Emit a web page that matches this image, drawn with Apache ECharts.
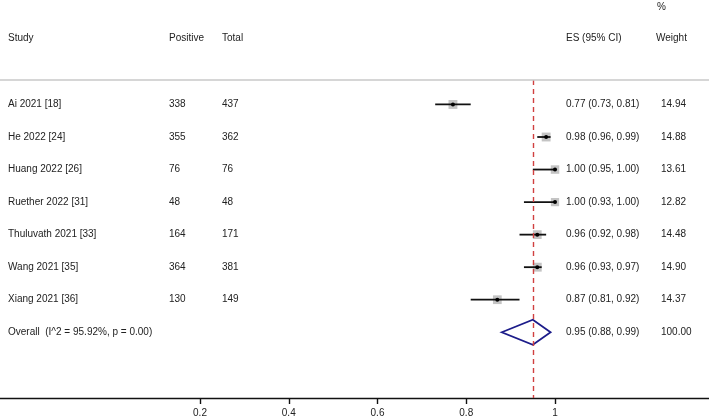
<!DOCTYPE html>
<html>
<head>
<meta charset="utf-8">
<script src="https://cdn.jsdelivr.net/npm/echarts@6/dist/echarts.min.js"></script>
<style>
  html, body { margin: 0; padding: 0; background: #fff; }
  #chart { width: 709px; height: 420px; }
</style>
</head>
<body>
<div id="chart"></div>
<script>
// study data
const studies = ['Ai 2021 [18]', 'He 2022 [24]', 'Huang 2022 [26]', 'Ruether 2022 [31]',
  'Thuluvath 2021 [33]', 'Wang 2021 [35]', 'Xiang 2021 [36]'];
const positive = [338, 355, 76, 48, 164, 364, 130];
const total = [437, 362, 76, 48, 171, 381, 149];
const es = [0.77, 0.98, 1.00, 1.00, 0.96, 0.96, 0.87];
const lower = [0.73, 0.96, 0.95, 0.93, 0.92, 0.93, 0.81];
const upper = [0.81, 0.99, 1.00, 1.00, 0.98, 0.97, 0.92];
const weight = [14.94, 14.88, 13.61, 12.82, 14.48, 14.90, 14.37];

// pooled estimate
const overallLabel = 'Overall  (I^2 = 95.92%, p = 0.00)';
const overallEs = 0.95;
const overallLower = 0.88;
const overallUpper = 0.99;
const overallWeight = 100.00;

const tickValues = [0.2, 0.4, 0.6, 0.8, 1];

const FONT = '"Liberation Sans", Arial, Helvetica, sans-serif';
const TXT = '#222';

const chart = echarts.init(document.getElementById('chart'), null, { renderer: 'canvas' });

// rows: 0..6 studies, 7 overall
const ciData = studies.map((s, i) => [i, lower[i], es[i], upper[i], weight[i]]);
const tableRows = studies.map((s, i) => ({
  value: [0, i],
  cols: [s, String(positive[i]), String(total[i]),
    es[i].toFixed(2) + ' (' + lower[i].toFixed(2) + ', ' + upper[i].toFixed(2) + ')',
    weight[i].toFixed(2)]
}));
tableRows.push({
  value: [0, studies.length],
  cols: [overallLabel, '', '',
    overallEs.toFixed(2) + ' (' + overallLower.toFixed(2) + ', ' + overallUpper.toFixed(2) + ')',
    overallWeight.toFixed(2)]
});

// x pixel of each text column
const colX = [8, 169, 222, 566, 661];

function txt (text, x, y, align) {
  return {
    type: 'text',
    style: { text: text, x: x, y: y, fill: TXT, fontSize: 10, fontFamily: FONT,
      align: align || 'left', verticalAlign: 'middle' }
  };
}

function renderTable (params, api) {
  const item = tableRows[params.dataIndex];
  const y = api.coord([0, api.value(1)])[1];
  return {
    type: 'group',
    children: item.cols.map((c, k) => txt(c, colX[k], y))
  };
}

function renderCI (params, api) {
  const row = api.value(0);
  const p0 = api.coord([api.value(1), row]);
  const pc = api.coord([api.value(2), row]);
  const p1 = api.coord([api.value(3), row]);
  const s = Math.sqrt(api.value(4)) * 2.3;
  return {
    type: 'group',
    children: [
      { type: 'rect', shape: { x: pc[0] - s / 2, y: pc[1] - s / 2, width: s, height: s },
        style: { fill: '#c4c4c4' } },
      { type: 'line', shape: { x1: p0[0], y1: p0[1], x2: p1[0], y2: p1[1] },
        style: { stroke: '#111', lineWidth: 1.8 } },
      { type: 'circle', shape: { cx: pc[0], cy: pc[1], r: 2 }, style: { fill: '#000' } }
    ]
  };
}

function renderDiamond (params, api) {
  const row = api.value(0);
  const l = api.coord([api.value(1), row]);
  const c = api.coord([api.value(2), row]);
  const r = api.coord([api.value(3), row]);
  const h = 12.5;
  return {
    type: 'polygon',
    shape: { points: [l, [c[0], c[1] - h], r, [c[0], c[1] + h]] },
    style: { fill: 'none', stroke: '#1c1c8a', lineWidth: 1.8 }
  };
}

const option = {
  animation: false,
  backgroundColor: '#fff',
  grid: { left: 0, right: 0, top: 0, bottom: 22 },
  xAxis: {
    type: 'value',
    min: -0.2507,
    max: 1.347,
    splitLine: { show: false },
    axisLine: { show: true, onZero: false, lineStyle: { color: '#111', width: 1.4 } },
    axisTick: { show: true, length: 6, customValues: tickValues, lineStyle: { color: '#111', width: 1.4 } },
    axisLabel: {
      customValues: tickValues,
      margin: 10,
      color: TXT,
      fontSize: 10,
      fontFamily: FONT,
      formatter: v => String(v)
    }
  },
  yAxis: {
    type: 'value',
    inverse: true,
    min: -3.21,
    max: 9.02,
    show: false
  },
  graphic: [
    txt('Study', colX[0], 38),
    txt('Positive', colX[1], 38),
    txt('Total', colX[2], 38),
    txt('ES (95% CI)', colX[3], 38),
    txt('%', 657, 7),
    txt('Weight', 656, 38)
  ],
  series: [
    {
      type: 'custom',
      renderItem: renderCI,
      data: ciData,
      clip: false,
      z: 3,
      // pooled-estimate reference line
      markLine: {
        silent: true,
        symbol: 'none',
        label: { show: false },
        lineStyle: { color: '#d04040', type: [5, 4], width: 1.4, opacity: 1 },
        emphasis: { disabled: true },
        data: [
          [{ coord: [overallEs, -0.75] }, { coord: [overallEs, 9.02] }]
        ]
      }
    },
    {
      type: 'custom',
      renderItem: renderDiamond,
      data: [[studies.length, overallLower, overallEs, overallUpper]],
      clip: false,
      z: 4,
      // header separator
      markLine: {
        silent: true,
        symbol: 'none',
        label: { show: false },
        lineStyle: { color: '#c8c8c8', type: 'solid', width: 1.6, opacity: 1 },
        emphasis: { disabled: true },
        data: [{ yAxis: -0.75 }]
      }
    },
    {
      type: 'custom',
      renderItem: renderTable,
      data: tableRows.map(r => r.value),
      clip: false,
      z: 5
    }
  ]
};

chart.setOption(option);
</script>
</body>
</html>
